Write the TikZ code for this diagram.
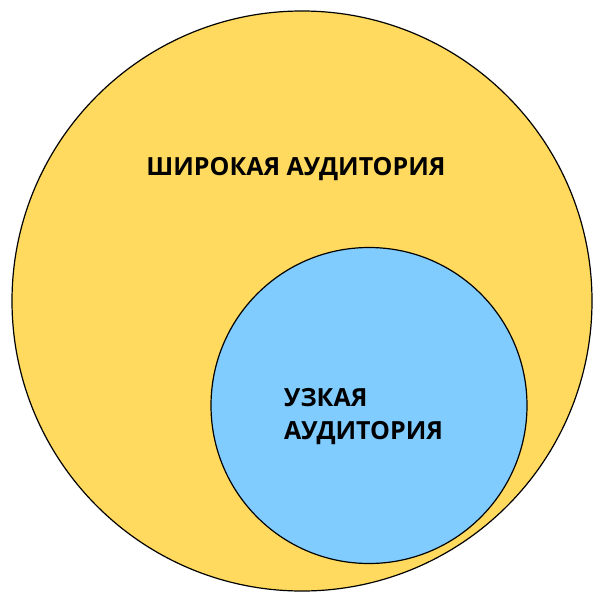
\documentclass[tikz,border=0pt]{standalone}
\usepackage{fontspec}
\setmainfont{Open Sans}
\definecolor{bigyellow}{HTML}{FFDA5E}
\definecolor{smallblue}{HTML}{80CCFF}
\begin{document}
\begin{tikzpicture}[x=1pt,y=-1pt,
  circ/.style={draw=black, line width=1.2pt},
  lbl/.style={font=\fontsize{25}{33}\selectfont\bfseries, text=black, inner sep=0pt}]
\useasboundingbox (0,0) rectangle (600,600);
\fill[white] (0,0) rectangle (600,600);
\node[circ, circle, fill=bigyellow, minimum size=580pt, inner sep=0pt] (big) at (302,301) {};
\node[circ, circle, fill=smallblue, minimum size=316pt, inner sep=0pt] (small) at (369,405.5) {};
\node[lbl, anchor=base] (wide) at (296,175) {ШИРОКАЯ АУДИТОРИЯ};
\node[lbl, anchor=base west, align=left] (narrow1) at (284,406) {УЗКАЯ};
\node[lbl, anchor=base west, align=left] (narrow2) at (284,439) {АУДИТОРИЯ};
\end{tikzpicture}
\end{document}
